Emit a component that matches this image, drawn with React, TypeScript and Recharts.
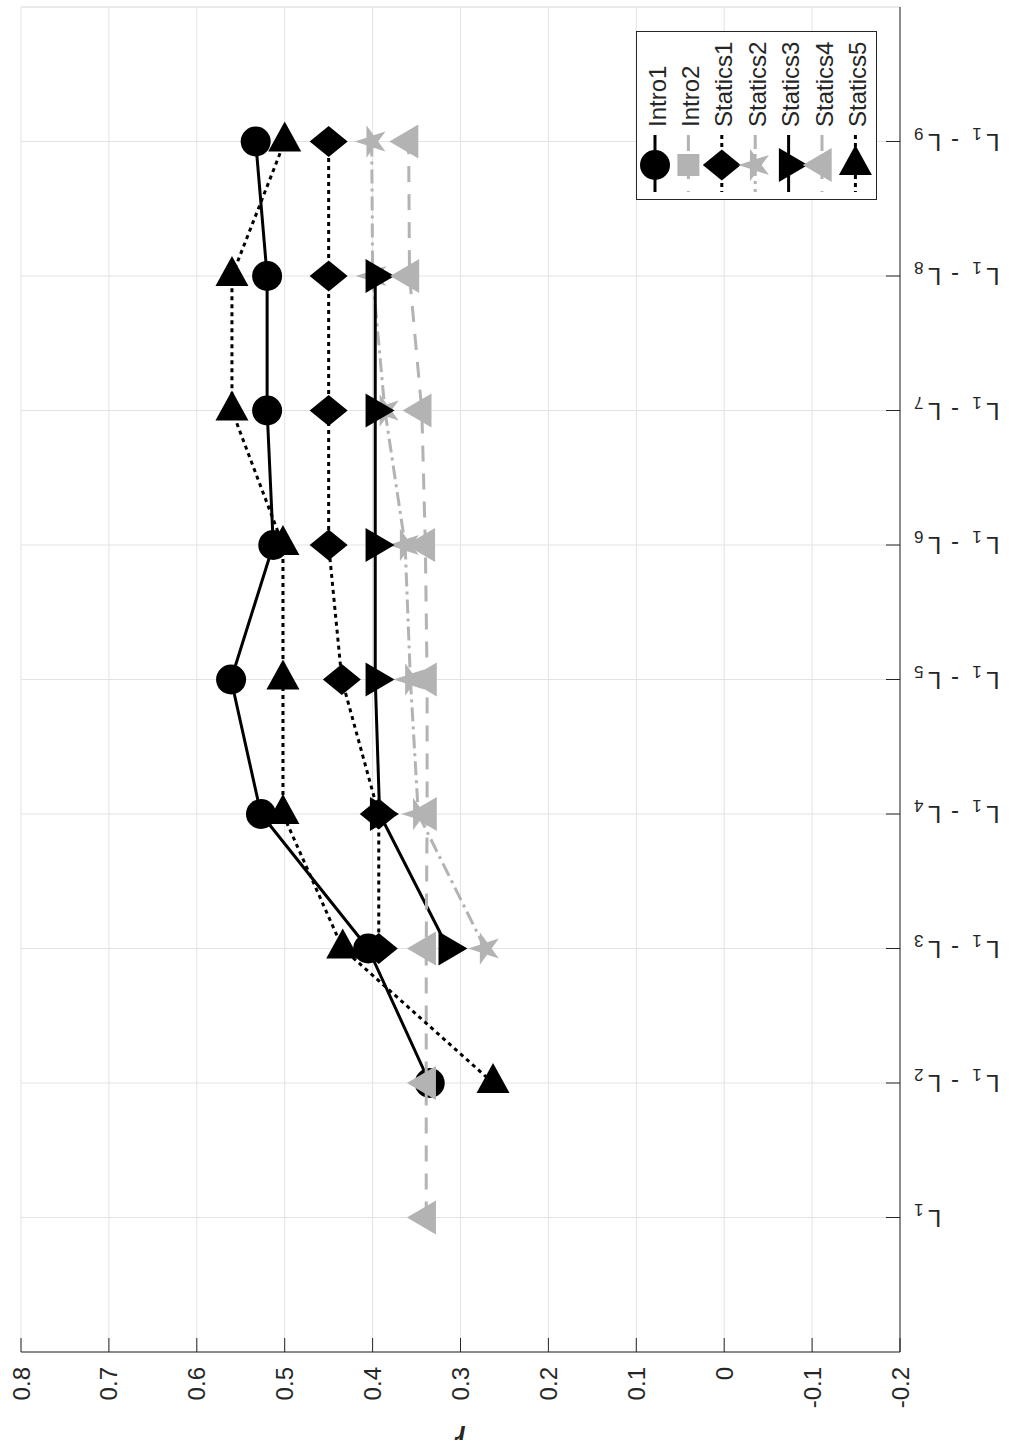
import React from "react";
import {
  ScatterChart,
  Scatter,
  XAxis,
  YAxis,
  CartesianGrid,
  ReferenceLine,
  Legend,
} from "recharts";

// lecture ranges (TeX-style subscripts) and their slot on the category axis
const lectureLabels = [
  "L_1",
  "L_1 - L_2",
  "L_1 - L_3",
  "L_1 - L_4",
  "L_1 - L_5",
  "L_1 - L_6",
  "L_1 - L_7",
  "L_1 - L_8",
  "L_1 - L_9",
];
const lecturePositions = [1, 2, 3, 4, 5, 6, 7, 8, 9];
const rTicks = [-0.2, -0.1, 0, 0.1, 0.2, 0.3, 0.4, 0.5, 0.6, 0.7, 0.8];

// correlation r per lecture range (null = course had no value there)
const intro1 = [null, 0.335, 0.405, 0.527, 0.561, 0.513, 0.52, 0.52, 0.533];
const intro2: (number | null)[] = [null, null, null, null, null, null, null, null, null];
const statics1 = [null, null, 0.393, 0.393, 0.435, 0.45, 0.45, 0.45, 0.45];
const statics2 = [null, null, 0.272, 0.348, 0.357, 0.363, 0.386, 0.4, 0.401];
const statics3 = [null, null, 0.314, 0.392, 0.397, 0.397, 0.397, 0.397, null];
const statics4 = [0.339, 0.339, 0.339, 0.338, 0.338, 0.34, 0.344, 0.358, 0.359];
const statics5 = [null, 0.263, 0.434, 0.502, 0.502, 0.502, 0.56, 0.56, 0.5];

const FONT = '"Liberation Sans", Arial, Helvetica, sans-serif';
const AXIS_COLOR = "#262626";
const GRID_COLOR = "#e3e3e3";
const BLACK = "#000000";
const GRAY = "#b3b3b3";

type MarkerKind = "circle" | "square" | "diamond" | "star" | "triRight" | "triLeft" | "triUp";

interface SeriesDef {
  name: string;
  values: (number | null)[];
  color: string;
  dash?: string;
  marker: MarkerKind;
}

const series: SeriesDef[] = [
  { name: "Intro1", values: intro1, color: BLACK, marker: "circle" },
  { name: "Intro2", values: intro2, color: GRAY, dash: "16 12", marker: "square" },
  { name: "Statics1", values: statics1, color: BLACK, dash: "4 4", marker: "diamond" },
  { name: "Statics2", values: statics2, color: GRAY, dash: "14 5 3 5", marker: "star" },
  { name: "Statics3", values: statics3, color: BLACK, marker: "triRight" },
  { name: "Statics4", values: statics4, color: GRAY, dash: "16 12", marker: "triLeft" },
  { name: "Statics5", values: statics5, color: BLACK, dash: "4 4", marker: "triUp" },
];

function toPoints(values: (number | null)[]) {
  return values.flatMap((r, i) => (r == null ? [] : [{ r, pos: lecturePositions[i] }]));
}

function starPoints(cx: number, cy: number, outer: number, inner: number) {
  const pts: string[] = [];
  for (let i = 0; i < 10; i++) {
    const a = Math.PI + (i * Math.PI) / 5;
    const rad = i % 2 === 0 ? outer : inner;
    pts.push(`${cx + rad * Math.cos(a)},${cy + rad * Math.sin(a)}`);
  }
  return pts.join(" ");
}

function Marker({ kind, cx, cy, color }: { kind: MarkerKind; cx: number; cy: number; color: string }) {
  switch (kind) {
    case "circle":
      return <circle cx={cx} cy={cy} r={15} fill={color} />;
    case "square":
      return <rect x={cx - 11} y={cy - 11} width={22} height={22} fill={color} />;
    case "diamond":
      return (
        <polygon
          points={`${cx - 19},${cy} ${cx},${cy - 15.5} ${cx + 19},${cy} ${cx},${cy + 15.5}`}
          fill={color}
        />
      );
    case "star":
      return <polygon points={starPoints(cx, cy, 17, 6.5)} fill={color} />;
    case "triRight":
      return (
        <polygon
          points={`${cx - 9.7},${cy - 17} ${cx + 19.3},${cy} ${cx - 9.7},${cy + 17}`}
          fill={color}
        />
      );
    case "triLeft":
      return (
        <polygon
          points={`${cx + 9.7},${cy - 17} ${cx - 19.3},${cy} ${cx + 9.7},${cy + 17}`}
          fill={color}
        />
      );
    case "triUp":
      return (
        <polygon
          points={`${cx - 16.5},${cy + 10} ${cx},${cy - 20} ${cx + 16.5},${cy + 10}`}
          fill={color}
        />
      );
  }
}

function parseTex(label: string) {
  const parts: { text: string; sub: boolean }[] = [];
  const re = /_(\d)/g;
  let last = 0;
  let m: RegExpExecArray | null;
  while ((m = re.exec(label))) {
    if (m.index > last) parts.push({ text: label.slice(last, m.index), sub: false });
    parts.push({ text: m[1], sub: true });
    last = m.index + m[0].length;
  }
  if (last < label.length) parts.push({ text: label.slice(last), sub: false });
  return parts;
}

const formatR = (v: number) => (Math.abs(v) < 1e-9 ? "0" : v.toFixed(1));

const RTick = (props: any) => {
  const { x, y, payload } = props;
  return (
    <text
      x={x}
      y={y}
      transform={`rotate(-90 ${x} ${y})`}
      textAnchor="end"
      dominantBaseline="central"
      fontSize={24}
      fontFamily={FONT}
      fill={AXIS_COLOR}
    >
      {formatR(payload.value)}
    </text>
  );
};

// category labels are drawn upside down, with TeX-like subscripts
const LectureTick = (props: any) => {
  const { x, y, payload } = props;
  const idx = lecturePositions.indexOf(payload.value);
  if (idx < 0) return null;
  const parts = parseTex(lectureLabels[idx]);
  let shifted = false;
  return (
    <text
      x={x}
      y={y + 8}
      transform={`rotate(180 ${x} ${y})`}
      textAnchor="end"
      fontSize={24}
      fontFamily={FONT}
      fill={AXIS_COLOR}
      style={{ whiteSpace: "pre" }}
    >
      {parts.map((p, i) => {
        let dy = 0;
        if (p.sub && !shifted) {
          dy = 6;
          shifted = true;
        } else if (!p.sub && shifted) {
          dy = -6;
          shifted = false;
        }
        return (
          <tspan
            key={i}
            dy={dy}
            dx={p.sub ? 3 : i > 0 ? 5 : 0}
            fontSize={p.sub ? 17 : 24}
            letterSpacing={p.sub ? 0 : 1.5}
          >
            {p.text}
          </tspan>
        );
      })}
    </text>
  );
};

const RLabel = (props: any) => {
  const { viewBox } = props;
  const cx = viewBox.x + viewBox.width / 2;
  const cy = viewBox.y + 74;
  return (
    <text
      x={cx}
      y={cy}
      transform={`rotate(180 ${cx} ${cy})`}
      textAnchor="middle"
      fontSize={25}
      fontStyle="italic"
      fontWeight="bold"
      fontFamily={FONT}
      fill={AXIS_COLOR}
    >
      r
    </text>
  );
};

const LegendBox = (props: any) => {
  const names: string[] = (props.payload || []).map((p: any) => p.value);
  const items = series.filter((s) => names.length === 0 || names.includes(s.name));
  return (
    <svg width={241} height={169} style={{ display: "block" }}>
      <rect x={0.5} y={0.5} width={240} height={168} fill="#ffffff" stroke={AXIS_COLOR} strokeWidth={1} />
      {items.map((s, i) => {
        const cx = 19 + i * 33.4;
        return (
          <g key={s.name}>
            <line
              x1={cx}
              x2={cx}
              y1={104}
              y2={161}
              stroke={s.color}
              strokeWidth={3}
              strokeDasharray={s.dash}
            />
            <Marker kind={s.marker} cx={cx} cy={134} color={s.color} />
            <text
              x={cx + 2}
              y={96}
              transform={`rotate(-90 ${cx + 2} 96)`}
              dominantBaseline="central"
              fontSize={24}
              fontFamily={FONT}
              fill={AXIS_COLOR}
            >
              {s.name}
            </text>
          </g>
        );
      })}
    </svg>
  );
};

export default function App() {
  return (
    <div style={{ position: "absolute", left: 0, top: 0, background: "#ffffff" }}>
      <ScatterChart
        width={1009}
        height={1450}
        margin={{ top: 7, right: 9, bottom: 8, left: 21 }}
        style={{ fontFamily: FONT }}
      >
        <CartesianGrid stroke={GRID_COLOR} strokeWidth={1} />
        <ReferenceLine y={10} stroke={GRID_COLOR} strokeWidth={1} />
        <XAxis
          type="number"
          dataKey="r"
          domain={[-0.2, 0.8]}
          reversed
          ticks={rTicks}
          interval={0}
          height={90}
          tickSize={-14}
          tickMargin={29}
          axisLine={{ stroke: AXIS_COLOR, strokeWidth: 1 }}
          tickLine={{ stroke: AXIS_COLOR, strokeWidth: 1 }}
          tick={RTick}
          label={{ value: "r", content: RLabel }}
        />
        <YAxis
          type="number"
          dataKey="pos"
          domain={[0, 10]}
          ticks={lecturePositions}
          interval={0}
          orientation="right"
          width={100}
          tickSize={-14}
          tickMargin={28}
          axisLine={{ stroke: AXIS_COLOR, strokeWidth: 1 }}
          tickLine={{ stroke: AXIS_COLOR, strokeWidth: 1 }}
          tick={LectureTick}
        />
        <Legend
          layout="vertical"
          align="center"
          verticalAlign="middle"
          wrapperStyle={{ left: 636, top: 31, width: 241, height: 169 }}
          content={LegendBox}
        />
        {series.map((s) => (
          <Scatter
            key={s.name}
            name={s.name}
            data={toPoints(s.values)}
            fill={s.color}
            line={{
              stroke: s.color,
              strokeWidth: 3,
              strokeDasharray: s.dash,
              strokeLinejoin: "round",
            }}
            lineJointType="linear"
            shape={(p: any) => <Marker kind={s.marker} cx={p.cx} cy={p.cy} color={s.color} />}
            isAnimationActive={false}
          />
        ))}
      </ScatterChart>
    </div>
  );
}
